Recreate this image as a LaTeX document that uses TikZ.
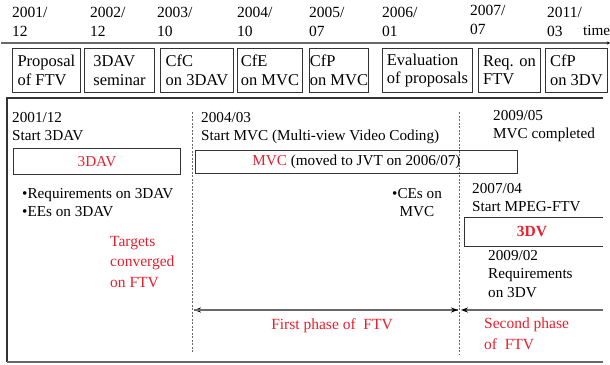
\documentclass[tikz,border=0pt]{standalone}
\usepackage{fontspec}
\setmainfont{Liberation Serif}
\usetikzlibrary{arrows.meta, positioning}
\definecolor{ftvred}{RGB}{232, 30, 45}
\definecolor{linegray}{RGB}{105, 105, 105}

\begin{document}
\begin{tikzpicture}[
    x=1pt, y=-1pt,
    every node/.style={font=\fontsize{15.2}{18}\selectfont, inner sep=0pt},
    date/.style={anchor=north west, align=left, font=\fontsize{15.5}{19}\selectfont},
    event/.style={rectangle, draw=black!80, line width=0.9pt, anchor=north west, minimum height=44pt, minimum width=#1, align=left, font=\fontsize{16.5}{18.5}\selectfont},
    group/.style={rectangle, draw=black!80, line width=0.9pt, anchor=north west},
    note/.style={anchor=north west, align=left, font=\fontsize{15.2}{18}\selectfont},
    target/.style={note, text=ftvred, font=\fontsize{15.5}{20.5}\selectfont},
    divider/.style={linegray, dashed, dash pattern=on 2pt off 1.5pt, line width=0.6pt},
    arrow/.style={linegray, line width=1.3pt, -{Stealth[length=7pt, width=5pt, color=black]}},
    axis/.style={linegray, line width=1.2pt, -{Stealth[length=3pt, width=3pt, color=black]}}
]
    \useasboundingbox (0,0) rectangle (610,364);

    % time axis and dates
    \coordinate (tstart) at (1,43);
    \coordinate (tend) at (610,43);
    \draw[axis] (tstart) -- (tend);
    \node[date] (d1) at (12,7) {2001/\\12};
    \node[date] (d2) at (90,7) {2002/\\12};
    \node[date] (d3) at (157,7) {2003/\\10};
    \node[date] (d4) at (237,7) {2004/\\10};
    \node[date] (d5) at (309,7) {2005/\\07};
    \node[date] (d6) at (382,7) {2006/\\01};
    \node[date] (d7) at (470,5) {2007/\\07};
    \node[date] (d8) at (547,7) {2011/\\03};
    \node[anchor=base west] (time) at (583,35) {time};

    % events
    \node[event=68pt] (prop) at (12,48) {Proposal\\of FTV};
    \node[event=70pt] (sem) at (84,48) {3DAV\\seminar};
    \node[event=73pt] (cfc) at (160,48) {CfC\\on 3DAV};
    \node[event=65pt] (cfe) at (237,48) {CfE\\on MVC};
    \node[event=59pt] (cfp) at (309,48) {CfP\\on MVC};
    \node[event=90pt] (eval) at (382,48) {Evaluation\\of proposals};
    \node[event=62pt] (req) at (478,48) {Req. on\\FTV};
    \node[event=62pt] (cfpdv) at (545,48) {CfP\\on 3DV};

    % frame
    \draw[black!80, line width=1.2pt] (603,98) -- (7,98) -- (7,362);
    \draw[linegray, line width=1.2pt] (7,362) -- (603,362);

    % phase dividers
    \draw[divider] (192,112) -- (192,353);
    \draw[divider] (459,112) -- (459,355);

    % 3DAV
    \node[note] (s3dav) at (12,112) {2001/12\\Start 3DAV};
    \node[group, minimum width=167pt, minimum height=26pt, text=ftvred] (dav) at (13,148) {3DAV};
    \node[note] (davlist) at (22,188) {\textbullet Requirements on 3DAV\\\textbullet EEs on 3DAV};
    \node[target] (conv) at (110,236) {Targets\\converged\\on FTV};

    % MVC
    \node[note] (smvc) at (201,112) {2004/03\\Start MVC (Multi-view Video Coding)};
    \node[group, minimum width=322pt, minimum height=23pt] (mvc) at (195,150) {\textcolor{ftvred}{MVC} (moved to JVT on 2006/07)};
    \node[note] (emvc) at (493,110) {2009/05\\MVC completed};
    \node[note, align=center] (ces) at (392,188) {\textbullet CEs on\\MVC};

    % 3DV
    \node[note] (sftv) at (472,183) {2007/04\\Start MPEG-FTV};
    \node[text=ftvred, font=\bfseries\fontsize{15.5}{18}\selectfont] (tdv) at (532,231.5) {3DV};
    \draw[black!80, line width=0.9pt] (603,217) -- (464,217) -- (464,246) -- (603,246);
    \node[note, font=\fontsize{15.2}{18.5}\selectfont] (req3dv) at (488,250) {2009/02\\Requirements\\on 3DV};

    % phases
    \coordinate (p1l) at (194,310);
    \coordinate (p1r) at (458,310);
    \coordinate (p2l) at (461,310);
    \coordinate (p2r) at (603,310);
    \draw[arrow] (p1r) -- (p1l);
    \draw[arrow] (p1l) -- (p1r);
    \draw[arrow] (p2r) -- (p2l);
    \node[text=ftvred, font=\fontsize{15.5}{18}\selectfont] (first) at (332,326) {First phase of\ \ FTV};
    \node[target] (second) at (484,318) {Second phase\\of\ \ FTV};
\end{tikzpicture}
\end{document}
